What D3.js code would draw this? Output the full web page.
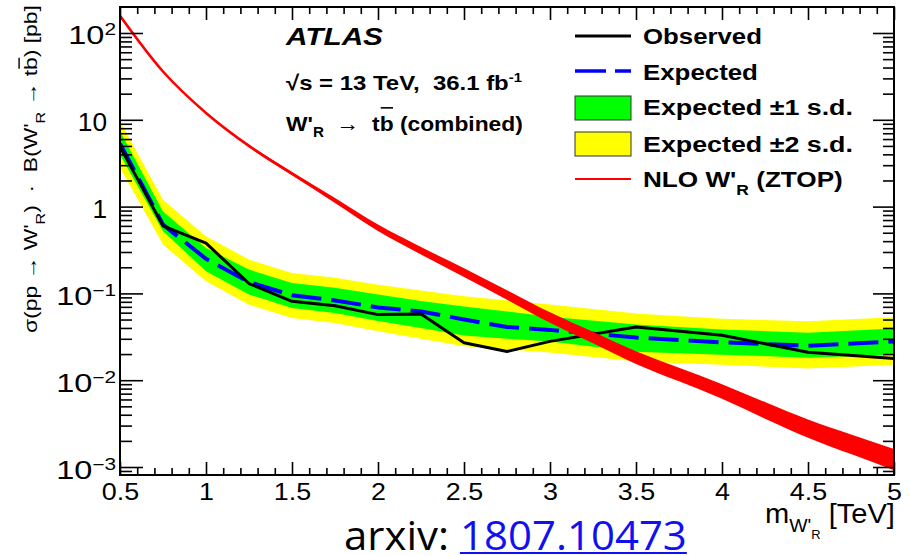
<!DOCTYPE html>
<html>
<head>
<meta charset="utf-8">
<script src="https://cdn.jsdelivr.net/npm/d3@7"></script>
<style>
  html, body { margin: 0; padding: 0; background: #fff; }
  svg { display: block; }
  svg text { white-space: pre; }
</style>
</head>
<body>
<svg id="chart" width="910" height="556"></svg>
<script>
// 95% CL upper limits on sigma(pp -> W'_R) x B(W'_R -> tb), in pb, vs. W'_R mass in TeV
const massPoints     = [0.5, 0.75, 1.0, 1.25, 1.5, 1.75, 2.0, 2.25, 2.5, 2.75, 3.0, 3.5, 4.0, 4.5, 5.0];
const observedLimit  = [4.9, 0.60, 0.38, 0.13, 0.081, 0.072, 0.057, 0.058, 0.027, 0.0214, 0.028, 0.041, 0.033, 0.021, 0.0178];
const expectedLimit  = [5.3, 0.62, 0.25, 0.135, 0.095, 0.083, 0.069, 0.062, 0.050, 0.041, 0.038, 0.031, 0.0273, 0.025, 0.0279];
const expectedPlus1  = [7.4, 0.88, 0.334, 0.188, 0.132, 0.116, 0.097, 0.082, 0.0705, 0.062, 0.054, 0.0437, 0.0383, 0.0353, 0.0393];
const expectedMinus1 = [3.97, 0.52, 0.18, 0.097, 0.068, 0.0596, 0.048, 0.040, 0.0327, 0.030, 0.028, 0.0213, 0.0197, 0.0182, 0.0197];
const expectedPlus2  = [9.6, 1.2, 0.455, 0.245, 0.172, 0.151, 0.126, 0.108, 0.0926, 0.083, 0.0743, 0.0585, 0.051, 0.0477, 0.053];
const expectedMinus2 = [2.8, 0.365, 0.138, 0.074, 0.052, 0.0457, 0.0366, 0.030, 0.0246, 0.0226, 0.0208, 0.0164, 0.0151, 0.0136, 0.0151];

// NLO W'_R cross-section (ZTOP) with its uncertainty band
const theoryMass = [0.5, 0.75, 1.0, 1.25, 1.5, 1.75, 2.0, 2.25, 2.5, 2.75, 3.0, 3.25, 3.5, 3.75, 4.0, 4.25, 4.5, 4.75, 5.0];
const theoryXsec = [158, 36, 12.0, 5.0, 2.4, 1.175, 0.57, 0.31, 0.174, 0.096, 0.0526, 0.031, 0.0182, 0.0116, 0.0074, 0.0045, 0.00277, 0.00183, 0.00122];
const theoryUp   = [158.3, 36.33, 12.24, 5.17, 2.51, 1.256, 0.621, 0.342, 0.195, 0.109, 0.0605, 0.0361, 0.0215, 0.0139, 0.0090, 0.0056, 0.00352, 0.00237, 0.00161];
const theoryDown = [157.7, 35.67, 11.76, 4.84, 2.29, 1.10, 0.523, 0.281, 0.155, 0.0846, 0.0458, 0.0266, 0.0154, 0.0097, 0.0061, 0.0036, 0.00218, 0.00141, 0.00092];

// Axis labels
const xTickValues = [0.5, 1, 1.5, 2, 2.5, 3, 3.5, 4, 4.5, 5];
const xTickLabels = ["0.5", "1", "1.5", "2", "2.5", "3", "3.5", "4", "4.5", "5"];
const yTickExponents = [-3, -2, -1, 0, 1, 2];

const FONT = "'Liberation Sans', Arial, Helvetica, sans-serif";
const frame = { left: 120, right: 894, top: 7, bottom: 475 };

const svg = d3.select("#chart");
svg.append("rect").attr("width", 910).attr("height", 556).attr("fill", "#fff");

const x = d3.scaleLinear().domain([0.5, 5]).range([frame.left, frame.right]);
const y = d3.scaleLog().domain([8.09e-4, 199.3]).range([frame.bottom, frame.top]);

svg.append("clipPath").attr("id", "plotClip")
  .append("rect")
  .attr("x", frame.left).attr("y", frame.top)
  .attr("width", frame.right - frame.left).attr("height", frame.bottom - frame.top);

const plot = svg.append("g").attr("clip-path", "url(#plotClip)");

const limits = massPoints.map((m, i) => ({
  m, obs: observedLimit[i], exp: expectedLimit[i],
  p1: expectedPlus1[i], m1: expectedMinus1[i],
  p2: expectedPlus2[i], m2: expectedMinus2[i]
}));
const theory = theoryMass.map((m, i) => ({ m, c: theoryXsec[i], up: theoryUp[i], dn: theoryDown[i] }));

// +-2 and +-1 sigma bands
plot.append("path").datum(limits)
  .attr("fill", "#ffff00")
  .attr("d", d3.area().x(d => x(d.m)).y0(d => y(d.m2)).y1(d => y(d.p2)));
plot.append("path").datum(limits)
  .attr("fill", "#00ff00")
  .attr("d", d3.area().x(d => x(d.m)).y0(d => y(d.m1)).y1(d => y(d.p1)));

// expected (dashed) and observed limits
plot.append("path").datum(limits)
  .attr("fill", "none").attr("stroke", "#0000ff").attr("stroke-width", 4)
  .attr("stroke-dasharray", "30,10")
  .attr("d", d3.line().x(d => x(d.m)).y(d => y(d.exp)));
plot.append("path").datum(limits)
  .attr("fill", "none").attr("stroke", "#000").attr("stroke-width", 3)
  .attr("stroke-linejoin", "round")
  .attr("d", d3.line().x(d => x(d.m)).y(d => y(d.obs)));

// theory prediction band and central curve
plot.append("path").datum(theory)
  .attr("fill", "#ff0000")
  .attr("d", d3.area().curve(d3.curveMonotoneX).x(d => x(d.m)).y0(d => y(d.dn)).y1(d => y(d.up)));
plot.append("path").datum(theory)
  .attr("fill", "none").attr("stroke", "#ff0000").attr("stroke-width", 2.6)
  .attr("d", d3.line().curve(d3.curveMonotoneX).x(d => x(d.m)).y(d => y(d.c)));

// ---- axes: ticks on all four sides, pointing inward ----
const axes = svg.append("g");
const xMinor = x.ticks(45).filter(v => !xTickValues.some(t => Math.abs(t - v) < 1e-9));
const yDecades = yTickExponents.map(e => Math.pow(10, e));
const yMinor = y.ticks().filter(v => {
  const l = Math.log10(v);
  return Math.abs(l - Math.round(l)) > 1e-6;
});

function tickSet(axisFn, scale, values, size, transform, fmt) {
  const g = axes.append("g").attr("transform", transform)
    .call(axisFn(scale).tickValues(values).tickSize(size).tickSizeOuter(0).tickFormat(fmt || ""));
  g.select(".domain").remove();
  g.selectAll("line").attr("stroke", "#000").attr("stroke-width", 1.6);
  return g;
}

tickSet(d3.axisBottom, x, xMinor, -7, `translate(0,${frame.bottom})`);
const xMajor = tickSet(d3.axisBottom, x, xTickValues, -13, `translate(0,${frame.bottom})`, (d, i) => xTickLabels[i]);
xMajor.selectAll("text")
  .attr("y", 25).attr("dy", null)
  .attr("fill", "#000")
  .attr("font-family", FONT).attr("font-size", 24)
  .attr("transform", "scale(1.12,1)");

tickSet(d3.axisTop, x, xMinor, -7, `translate(0,${frame.top})`);
tickSet(d3.axisTop, x, xTickValues, -13, `translate(0,${frame.top})`);

tickSet(d3.axisLeft, y, yMinor, -12, `translate(${frame.left},0)`);
const yMajor = tickSet(d3.axisLeft, y, yDecades, -23, `translate(${frame.left},0)`);
tickSet(d3.axisRight, y, yMinor, -11, `translate(${frame.right},0)`);
tickSet(d3.axisRight, y, yDecades, -21, `translate(${frame.right},0)`);

// decade labels: 1, 10 and 10^n
yMajor.selectAll("text").remove();
yMajor.selectAll(".tick").each(function (d, i) {
  const e = yTickExponents[i];
  const t = d3.select(this).append("text")
    .attr("fill", "#000").attr("font-family", FONT).attr("font-size", 25)
    .attr("text-anchor", "end");
  if (e === 0 || e === 1) {
    t.text(e === 0 ? "1" : "10").attr("transform", "translate(-13,11) scale(1.05,1)");
  } else {
    t.append("tspan").text("10");
    t.append("tspan").attr("font-size", 16).attr("dy", -9).text(e < 0 ? "\u2212" + (-e) : String(e));
    t.attr("transform", "translate(-4,11) scale(1.3,1)");
  }
});

// frame
svg.append("rect")
  .attr("x", frame.left).attr("y", frame.top)
  .attr("width", frame.right - frame.left).attr("height", frame.bottom - frame.top)
  .attr("fill", "none").attr("stroke", "#000").attr("stroke-width", 2);

// ---- text helpers: stretch a label horizontally to a given width ----
function fitText(parent, o, build) {
  const g = parent.append("g");
  const t = g.append("text").attr("x", 0).attr("y", 0)
    .attr("font-family", o.family || FONT).attr("font-size", o.size)
    .attr("font-weight", o.weight || "normal").attr("font-style", o.style || "normal")
    .attr("fill", o.fill || "#000");
  build(t);
  const natural = t.node().getComputedTextLength();
  const sx = o.width / natural;
  const shift = o.anchor === "end" ? -natural : (o.anchor === "middle" ? -natural / 2 : 0);
  g.attr("transform", `translate(${o.x},${o.y})${o.rotate ? ` rotate(${o.rotate})` : ""} scale(${sx},1) translate(${shift},0)`);
  return { g, t };
}

// bar over a single character (anti-quark)
function overlineChar(lbl, index, offset, width) {
  const ext = lbl.t.node().getExtentOfChar(index);
  lbl.g.append("line")
    .attr("x1", ext.x + 1).attr("x2", ext.x + ext.width - 0.5)
    .attr("y1", ext.y - offset).attr("y2", ext.y - offset)
    .attr("stroke", "#000").attr("stroke-width", width);
}

// y-axis title
const yTitle = fitText(svg, { x: 37, y: 333, size: 18.5, width: 328, rotate: -90 }, t => {
  t.append("tspan").text("\u03c3(pp \u2192 W'");
  t.append("tspan").attr("font-size", 13).attr("dy", 8).text("R");
  t.append("tspan").attr("font-size", 18.5).attr("dy", -8).text(")  \u00b7  B(W'");
  t.append("tspan").attr("font-size", 13).attr("dy", 8).text("R");
  t.append("tspan").attr("font-size", 18.5).attr("dy", -8).text(" \u2192 tb) [pb]");
});
{
  const s = yTitle.t.node().textContent;
  overlineChar(yTitle, s.indexOf("tb") + 1, 1, 1.4);
}

// x-axis title
fitText(svg, { x: 895, y: 523, size: 27, width: 130, anchor: "end" }, t => {
  t.append("tspan").text("m");
  t.append("tspan").attr("font-size", 18).attr("dy", 9).text("W'");
  t.append("tspan").attr("font-size", 12).attr("dy", 7).text("R");
  t.append("tspan").attr("font-size", 27).attr("dy", -16).text(" [TeV]");
});

// experiment label and analysis info
fitText(svg, { x: 286, y: 45, size: 24.5, weight: "bold", style: "italic", width: 97 }, t => t.text("ATLAS"));
fitText(svg, { x: 286, y: 90, size: 21, weight: "bold", width: 236 }, t => {
  t.append("tspan").text("\u221as = 13 TeV,  36.1 fb");
  t.append("tspan").attr("font-size", 13).attr("dy", -8).text("-1");
});
const chanLabel = fitText(svg, { x: 286, y: 131, size: 21, weight: "bold", width: 237 }, t => {
  t.append("tspan").text("W'");
  t.append("tspan").attr("font-size", 14).attr("dy", 6).text("R");
  t.append("tspan").attr("font-size", 21).attr("dy", -6).text("  \u2192  tb (combined)");
});
{
  const s = chanLabel.t.node().textContent;
  overlineChar(chanLabel, s.indexOf("tb") + 1, 4, 1.6);
}

// ---- legend ----
const legendNames = ["Observed", "Expected", "Expected \u00b11 s.d.", "Expected \u00b12 s.d.", "NLO W'R (ZTOP)"];
const legendWidths = [119, 115, 210, 210, 200];
const legendBaselines = [44.3, 80, 115, 151.7, 186.7];
const legend = svg.append("g");
const lx0 = 575, lx1 = 631;

legend.append("line").attr("x1", lx0).attr("x2", lx1).attr("y1", 36).attr("y2", 36)
  .attr("stroke", "#000").attr("stroke-width", 3);
legend.append("line").attr("x1", lx0).attr("x2", lx1).attr("y1", 71).attr("y2", 71)
  .attr("stroke", "#0000ff").attr("stroke-width", 3.5).attr("stroke-dasharray", "31,9");
legend.append("rect").attr("x", lx0).attr("y", 96).attr("width", lx1 - lx0).attr("height", 24)
  .attr("fill", "#00ff00").attr("stroke", "#333").attr("stroke-width", 1);
legend.append("rect").attr("x", lx0).attr("y", 132).attr("width", lx1 - lx0).attr("height", 24)
  .attr("fill", "#ffff00").attr("stroke", "#333").attr("stroke-width", 1);
legend.append("line").attr("x1", lx0).attr("x2", lx1).attr("y1", 179).attr("y2", 179)
  .attr("stroke", "#ff0000").attr("stroke-width", 1.8);

legendNames.forEach((name, i) => {
  fitText(legend, { x: 643, y: legendBaselines[i], size: 22.5, weight: "bold", width: legendWidths[i] }, t => {
    if (name.indexOf("W'R") >= 0) {
      const [a, b] = name.split("W'R");
      t.append("tspan").text(a + "W'");
      t.append("tspan").attr("font-size", 15).attr("dy", 8).text("R");
      t.append("tspan").attr("font-size", 22.5).attr("dy", -8).text(b);
    } else {
      t.text(name);
    }
  });
});

// ---- reference line below the plot ----
const ref = fitText(svg, { x: 344, y: 550, size: 40, family: "'Open Sans', Lato, sans-serif", width: 343 }, t => {
  t.append("tspan").attr("fill", "#000").text("arxiv: ");
  t.append("tspan").attr("fill", "#1010f0").text("1807.10473");
});
{
  const node = ref.t.node();
  const s = node.textContent;
  const i0 = s.indexOf("1807");
  const a = node.getStartPositionOfChar(i0).x;
  const b = node.getEndPositionOfChar(s.length - 1).x;
  ref.g.append("line").attr("x1", a).attr("x2", b).attr("y1", 3).attr("y2", 3)
    .attr("stroke", "#1010f0").attr("stroke-width", 2);
}
</script>
</body>
</html>
